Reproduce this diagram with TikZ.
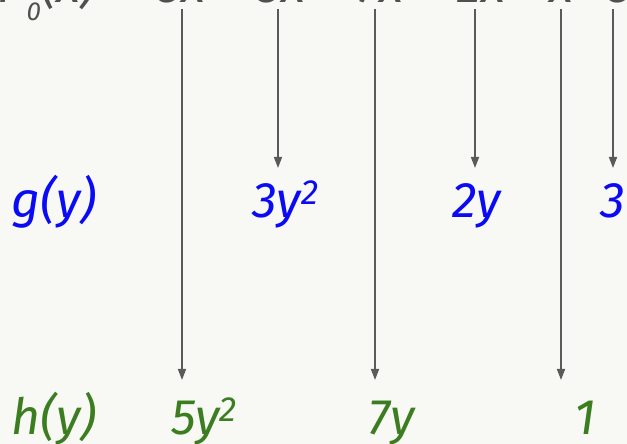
\documentclass[tikz,border=0pt]{standalone}
\usepackage{fontspec}
\setmainfont{Fira Sans}
\usetikzlibrary{arrows.meta}
\definecolor{bg}{RGB}{248,249,244}
\definecolor{gblue}{RGB}{10,10,245}
\definecolor{hgreen}{RGB}{60,125,34}
\definecolor{tgray}{RGB}{80,80,80}
\definecolor{lgray}{RGB}{90,90,90}
\newcommand{\spx}[1]{\raisebox{13pt}{\fontsize{35}{36}\selectfont #1}}
\begin{document}
\begin{tikzpicture}[x=1pt,y=1pt,
  lab/.style={inner sep=0pt, font=\fontsize{50}{60}\selectfont\itshape},
  gl/.style={lab, text=gblue, anchor=base west},
  hl/.style={lab, text=hgreen, anchor=base west},
  tl/.style={lab, text=tgray, anchor=base west},
  arr/.style={draw=lgray, line width=1.6pt, -{Triangle[length=11pt,width=8pt]}}]
\fill[bg] (0,0) rectangle (627,444);
\useasboundingbox (0,0) rectangle (627,444);
\clip (0,0) rectangle (627,444);
% top row (mostly cut off)
\node[lab, text=tgray, anchor=base east] (lhs) at (97,441) {P\raisebox{-18pt}{\fontsize{26}{30}\selectfont 0}(x)};
\node[lab, text=tgray, anchor=base] (eq) at (126,441) {=};
\node[tl] (t5) at (157,441) {5x\spx{5}};
\node[lab, text=tgray, anchor=base] (p1) at (238,441) {+};
\node[tl] (t4) at (257,441) {3x\spx{4}};
\node[lab, text=tgray, anchor=base] (p2) at (340,441) {+};
\node[tl] (t3) at (357,441) {7x\spx{3}};
\node[lab, text=tgray, anchor=base] (p3) at (440,441) {+};
\node[tl] (t2) at (457,441) {2x\spx{2}};
\node[lab, text=tgray, anchor=base] (p4) at (535,441) {+};
\node[tl] (t1) at (549,441) {x};
\node[lab, text=tgray, anchor=base] (p5) at (595,441) {+};
\node[tl] (t0) at (608,441) {3};
% g row
\node[gl] (g) at (11,226) {g(y)};
\node[gl] (g2) at (252,226) {3y\spx{2}};
\node[gl] (g1) at (452,226) {2y};
\node[gl] (g0) at (600,226) {3};
% h row
\node[hl] (h) at (11,9) {h(y)};
\node[hl] (h2) at (171,9) {5y\spx{2}};
\node[hl] (h1) at (368,9) {7y};
\node[hl] (h0) at (574,9) {1};
% arrow ends
\coordinate (a5) at (182,435); \coordinate (b5) at (182,64);
\coordinate (a4) at (278,435); \coordinate (b4) at (278,276);
\coordinate (a3) at (375,435); \coordinate (b3) at (375,64);
\coordinate (a2) at (475,435); \coordinate (b2) at (475,276);
\coordinate (a1) at (561,435); \coordinate (b1) at (561,64);
\coordinate (a0) at (613,435); \coordinate (b0) at (613,276);
\draw[arr] (a5) -- (b5);
\draw[arr] (a4) -- (b4);
\draw[arr] (a3) -- (b3);
\draw[arr] (a2) -- (b2);
\draw[arr] (a1) -- (b1);
\draw[arr] (a0) -- (b0);
\end{tikzpicture}
\end{document}
